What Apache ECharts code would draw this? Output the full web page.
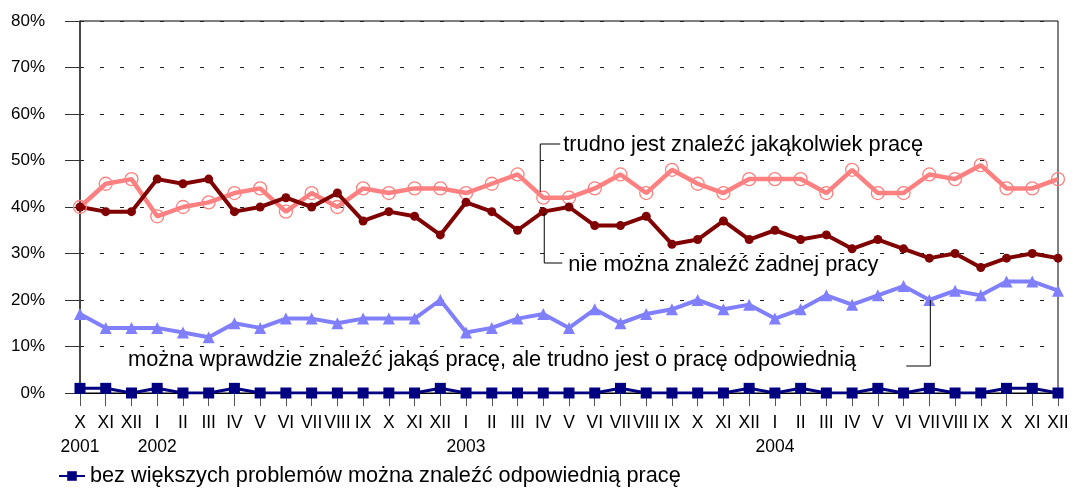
<!DOCTYPE html>
<html>
<head>
<meta charset="utf-8">
<script src="https://cdn.jsdelivr.net/npm/echarts@6/dist/echarts.min.js"></script>
<style>
  html, body { margin: 0; padding: 0; background: #fff; }
  #chart { width: 1074px; height: 488px; }
</style>
</head>
<body>
<div id="chart"></div>
<script>
// miesiące X 2001 - XII 2004
const months = ['X', 'XI', 'XII',
  'I', 'II', 'III', 'IV', 'V', 'VI', 'VII', 'VIII', 'IX', 'X', 'XI', 'XII',
  'I', 'II', 'III', 'IV', 'V', 'VI', 'VII', 'VIII', 'IX', 'X', 'XI', 'XII',
  'I', 'II', 'III', 'IV', 'V', 'VI', 'VII', 'VIII', 'IX', 'X', 'XI', 'XII'];
// rok pod pierwszym miesiącem danego roku
const years = {0: '2001', 3: '2002', 15: '2003', 27: '2004'};

const yTicks = [0, 10, 20, 30, 40, 50, 60, 70, 80];

const nameBez = 'bez większych problemów można znaleźć odpowiednią pracę';
const nameWprawdzie = 'można wprawdzie znaleźć jakąś pracę, ale trudno jest o pracę odpowiednią';
const nameTrudno = 'trudno jest znaleźć jakąkolwiek pracę';
const nameNie = 'nie można znaleźć żadnej pracy';

const bezValues = [1, 1, 0, 1, 0, 0, 1, 0, 0, 0, 0, 0, 0, 0, 1, 0, 0, 0, 0, 0, 0, 1, 0, 0, 0, 0, 1, 0, 1, 0, 0, 1, 0, 1, 0, 0, 1, 1, 0];
const wprawdzieValues = [17, 14, 14, 14, 13, 12, 15, 14, 16, 16, 15, 16, 16, 16, 20, 13, 14, 16, 17, 14, 18, 15, 17, 18, 20, 18, 19, 16, 18, 21, 19, 21, 23, 20, 22, 21, 24, 24, 22];
const trudnoValues = [40, 45, 46, 38, 40, 41, 43, 44, 39, 43, 40, 44, 43, 44, 44, 43, 45, 47, 42, 42, 44, 47, 43, 48, 45, 43, 46, 46, 46, 43, 48, 43, 43, 47, 46, 49, 44, 44, 46];
const nieValues = [40, 39, 39, 46, 45, 46, 39, 40, 42, 40, 43, 37, 39, 38, 34, 41, 39, 35, 39, 40, 36, 36, 38, 32, 33, 37, 33, 35, 33, 34, 31, 33, 31, 29, 30, 27, 29, 30, 29];

const font = '"Liberation Sans", Arial, sans-serif';
const chart = echarts.init(document.getElementById('chart'), null, {renderer: 'canvas'});

const option = {
  animation: false,
  textStyle: { fontFamily: font },
  grid: {
    left: 80, right: 16, top: 21, bottom: 95,
    show: true, borderColor: '#000', borderWidth: 1
  },
  legend: {
    data: [nameBez],
    left: 58, top: 465, padding: 0,
    itemWidth: 26, itemHeight: 12,
    textStyle: { fontFamily: font, fontSize: 21.7, color: '#000' }
  },
  xAxis: {
    type: 'category',
    data: months,
    boundaryGap: false,
    axisLine: { lineStyle: { color: '#000', width: 1 } },
    axisTick: { show: true, interval: 0, length: 13, lineStyle: { color: '#555' } },
    axisLabel: {
      interval: 0, margin: 18, fontSize: 17.5, color: '#000', lineHeight: 24,
      fontFamily: font, hideOverlap: false,
      formatter: (v, i) => years[i] ? v + '\n' + years[i] : v
    },
    splitLine: { show: false }
  },
  yAxis: {
    type: 'value',
    min: yTicks[0], max: yTicks[yTicks.length - 1], interval: 10,
    axisLine: { show: true, lineStyle: { color: '#333', width: 1.5 } },
    axisTick: { show: true, length: 15, lineStyle: { color: '#333' } },
    axisLabel: { margin: 35, fontSize: 17, color: '#000', fontFamily: font, formatter: '{value}%' },
    splitLine: { show: true, lineStyle: { color: '#222', width: 1, type: [4, 16] } }
  },
  series: [
    {
      name: nameBez, type: 'line', data: bezValues,
      color: '#000080',
      symbol: 'rect', symbolSize: 11, showSymbol: true,
      lineStyle: { width: 3, color: '#000080' },
      itemStyle: { color: '#000080' }
    },
    {
      name: nameWprawdzie, type: 'line', data: wprawdzieValues,
      color: '#8080FF',
      symbol: 'triangle', symbolSize: 12,
      lineStyle: { width: 4, color: '#8080FF' },
      itemStyle: { color: '#8080FF' }
    },
    {
      name: nameTrudno, type: 'line', data: trudnoValues,
      color: '#FF8080',
      symbol: 'circle', symbolSize: 13,
      lineStyle: { width: 4.5, color: '#FF8080' },
      itemStyle: { color: 'transparent', borderColor: '#FF8080', borderWidth: 1.3 }
    },
    {
      name: nameNie, type: 'line', data: nieValues,
      color: '#800000',
      symbol: 'circle', symbolSize: 9,
      lineStyle: { width: 4, color: '#800000' },
      itemStyle: { color: '#800000' }
    }
  ]
};
chart.setOption(option);

// podpisy serii z liniami odniesienia
const pTrudno = chart.convertToPixel({seriesIndex: 2}, [18, trudnoValues[18]]);
const pNie = chart.convertToPixel({seriesIndex: 3}, [18, nieValues[18]]);
const pWpr = chart.convertToPixel({seriesIndex: 1}, [33, wprawdzieValues[33]]);

const lineStyle = { stroke: '#000', lineWidth: 1, fill: null };
const labelStyle = { fill: '#000', fontSize: 21.8, fontFamily: font, verticalAlign: 'middle' };

chart.setOption({
  graphic: [
    { type: 'polyline', shape: { points: [[pTrudno[0] + 17, 144], [pTrudno[0] - 3, 144], [pTrudno[0] - 3, pTrudno[1] - 6]] }, style: lineStyle, z: 10 },
    { type: 'text', x: pTrudno[0] + 20, y: 145, style: Object.assign({ text: nameTrudno }, labelStyle), z: 10 },
    { type: 'polyline', shape: { points: [[pNie[0] + 1, pNie[1] + 1], [pNie[0] + 1, 263], [pNie[0] + 19, 263]] }, style: lineStyle, z: 10 },
    { type: 'text', x: pNie[0] + 25, y: 265, style: Object.assign({ text: nameNie }, labelStyle), z: 10 },
    { type: 'polyline', shape: { points: [[pWpr[0] + 1, pWpr[1]], [pWpr[0] + 1, 366], [pWpr[0] - 23, 366]] }, style: lineStyle, z: 10 },
    { type: 'text', x: 128, y: 360, style: Object.assign({ text: nameWprawdzie }, labelStyle), z: 10 }
  ]
});
</script>
</body>
</html>
